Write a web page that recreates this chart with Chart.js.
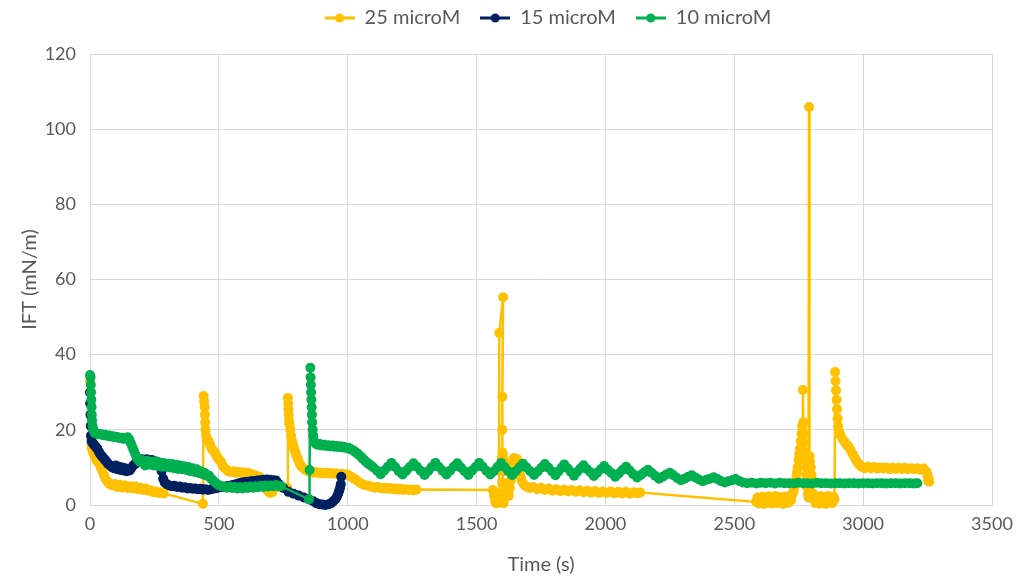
<!DOCTYPE html>
<html>
<head>
<meta charset="utf-8">
<title>IFT vs time</title>
<script src="https://cdn.jsdelivr.net/npm/chart.js@4/dist/chart.umd.min.js"></script>
<style>
  html, body { margin: 0; padding: 0; background: #fff; }
  #wrap { width: 1016px; height: 580px; }
</style>
</head>
<body>
<div id="wrap"><canvas id="chart" width="1016" height="580"></canvas></div>
<script>
/* ============================================================
   IFT (mN/m) against time for three concentrations
   ============================================================ */

const seriesNames = ['25 microM', '15 microM', '10 microM'];
const seriesColors = ['#FFC000', '#002060', '#00B050'];
const xTickStep = 500, xMax = 3500;
const yTickStep = 20, yMax = 120;

// [time (s), IFT (mN/m)]
const ift25 = [
  [0,33],[1,30],[2,27],[3,24],[4,21],[5,18],[6,16],[8,15],[12,14],[18,13],[24,12],[30,11.5],
  [36,11],[42,10],[48,9],[54,8],[60,7],[68,6.2],[76,5.6],[86,5.2],[96,5.6],[106,4.8],[116,5.4],
  [126,4.6],[136,5.2],[146,4.5],[156,5],[166,4.4],[176,4.9],[186,4.2],[196,4.6],[206,4],
  [216,4.4],[226,3.8],[236,3.9],[246,3.4],[256,3.6],[266,3.2],[276,3.4],[286,3.1],
  [438,0.3],[441,29],[443,27.5],[445,26],[446,24],[447,22],[448,20],[450,18.5],[454,17.5],
  [460,17],[466,16],[472,15],[478,14.5],[484,14],[490,13.2],[496,12.5],[502,12],[508,11.5],
  [514,10.5],[520,10],[528,9.5],[536,9],[546,8.8],[556,9],[566,8.6],[576,8.8],[586,8.5],
  [596,8.7],[606,8.4],[616,8.5],[626,8.2],[636,8],[646,7.8],[656,7.5],[664,7],[670,6.5],
  [676,6],[682,5],[688,4],[694,3.5],[700,3.2],[708,3.5],
  [766,4.5],[768,28.5],[769,27],[770,25.5],[771,24],[772,22.5],[774,21.5],[777,20],[780,18.5],
  [784,17],[788,16],[792,15],[797,14],[802,13],[808,12],[814,11],[820,10.3],[828,9.8],
  [836,9.3],[846,9],[856,8.8],[866,8.6],[876,8.8],[886,8.5],[896,8.6],[906,8.4],[916,8.6],
  [926,8.4],[936,8.5],[946,8.3],[956,8.4],[966,8.2],[976,8.3],[986,8.1],[996,8.2],[1006,7.8],
  [1016,7.4],[1026,7],[1036,6.5],[1046,6],[1056,5.6],[1066,5.3],[1076,5.2],[1086,5],
  [1096,4.8],[1106,4.6],[1116,4.8],[1126,4.5],[1136,4.4],[1146,4.6],[1156,4.3],[1166,4.5],
  [1176,4.2],[1186,4.4],[1196,4.1],[1206,4.3],[1216,4],[1226,4.2],[1236,4],[1246,4.1],
  [1256,3.9],[1266,4.1],
  [1563,4],[1568,2.5],[1572,1],[1576,0.4],[1580,1.5],[1584,0.6],[1587,3],[1588,45.8],
  [1603,55.3],[1600,28.8],[1600,20],[1600,14],[1598,12.5],[1602,13.5],[1606,12],[1604,9],
  [1600,6],[1597,3],[1600,1],[1605,0.5],[1609,2],[1613,4],[1617,5.5],[1621,3.5],[1625,2.5],
  [1629,4.5],[1633,6.5],[1637,9],[1641,11],[1645,12.5],[1649,12],[1653,11],[1657,12.2],
  [1661,11.5],[1665,9.5],[1669,8],[1673,7],[1678,6],[1684,5.5],[1690,5],[1698,4.8],[1706,4.5],
  [1720,4.8],[1735,4.2],[1750,4.6],[1765,4],
  [1780,4.4],[1795,3.8],[1810,4.2],[1825,3.7],[1840,4.1],[1855,3.6],[1870,4],[1885,3.5],
  [1900,3.9],[1915,3.4],[1930,3.8],[1945,3.3],[1960,3.7],[1975,3.2],[1990,3.6],[2005,3.2],
  [2020,3.6],[2035,3.1],[2050,3.5],[2065,3.1],[2080,3.5],[2095,3],[2110,3.4],[2125,3.1],
  [2135,3.3],
  [2585,0.8],[2590,2],[2595,0.4],[2600,1.6],[2605,0.9],[2610,2.2],[2615,0.3],[2620,1.4],
  [2625,1.9],[2630,0.6],[2635,2.3],[2640,1],[2645,0.4],[2650,1.8],[2655,1.2],[2660,2.4],
  [2665,0.5],[2670,1.5],[2675,2.1],[2680,0.7],[2685,1.7],[2690,0.3],[2695,2.2],[2700,1.1],
  [2705,1.9],[2710,0.6],[2715,2.4],[2720,1.3],[2725,2.8],[2729,3.5],[2733,4.5],[2737,5.5],
  [2740,7],[2743,8.5],[2746,10],[2749,12],[2752,13.5],[2755,15],[2758,17],[2761,19],[2763,21],
  [2766,30.6],[2768,22],[2770,19],[2772,16.5],[2774,14],[2776,12],[2778,10],[2780,8],[2782,6],
  [2784,4.5],[2786,3],[2788,2],[2790,105.9],[2792,13],[2794,11.5],[2797,10],[2800,8],
  [2803,5.5],[2806,3],[2810,1.5],[2815,0.5],[2820,2],[2825,1.2],[2830,0.4],[2835,2.3],
  [2840,1.5],[2845,0.7],[2850,2.1],[2855,0.3],[2860,1.6],[2865,2.4],[2870,0.9],[2875,1.8],
  [2880,0.5],[2885,2.2],[2889,1.5],
  [2891,35.4],[2893,33],[2895,30.5],[2897,28],[2899,25.5],
  [2901,23],[2903,21],[2907,19.5],[2913,18.5],[2920,17.5],[2928,16.8],[2936,16],[2944,15.5],
  [2952,14.5],[2960,13.5],[2968,12.5],[2976,11.5],[2984,10.8],[2994,10.2],[3006,9.8],
  [3018,10.2],[3030,9.8],[3042,10.1],[3054,9.7],[3066,10],[3078,9.7],[3090,10],[3102,9.6],
  [3114,9.9],[3126,9.6],[3138,9.9],[3150,9.6],[3162,9.9],[3174,9.5],[3186,9.8],[3198,9.5],
  [3210,9.8],[3222,9.4],[3234,9.7],[3244,9],[3250,8],[3254,7],[3256,6.2],[3252,6.5]
];

const ift15 = [
  [0,30],[1,27],[2,24],[3,21],[4,18.5],[6,17],[10,16.5],[16,16],[22,15.5],[28,15],[34,14.2],
  [40,13.5],[46,13],[52,12.5],[58,12],[64,11.5],[70,11],[78,10.5],[86,10],[94,9.8],[100,10.5],
  [106,9.5],[112,10.2],[118,9.3],[124,10],[130,9.2],[136,9.8],[142,9],[148,9.5],[154,9.2],
  [160,9.8],[168,10.5],[176,11],[184,11.5],[192,12],[200,12.2],[210,12],[220,12.2],[230,11.8],
  [240,12],[250,11.6],[260,11.5],[270,11],[278,9],[284,7],[290,6],[298,5.5],[308,5.2],
  [318,5],[328,5.1],[338,4.8],[348,4.9],[358,4.6],[368,4.7],[378,4.4],[388,4.5],[398,4.3],
  [408,4.4],[418,4.2],[428,4.3],[438,4.1],[448,4.2],[458,4],[470,4.2],[482,4.4],[494,4.5],
  [506,4.7],[518,4.8],[530,5],[542,5.1],[554,5.3],[566,5.5],[578,5.8],[590,6],[602,6.1],
  [614,6.2],[626,6.3],[638,6.4],[650,6.5],[662,6.6],[674,6.7],[686,6.8],[698,6.7],[710,6.6],
  [722,6.5],[734,5.5],[750,4.5],[770,3.5],[790,3],[810,2.5],[830,2],[850,1.5],[866,1],
  [878,0.5],[890,0.2],[902,0.1],[914,0],[926,0.2],[936,0.5],[944,1],[952,1.5],[958,2.2],
  [963,3],[967,3.8],[970,4.5],[973,5.5],[975,7.5]
];

const ift10 = [
  [0,34.6],[2,34],[3,32],[4,30],[5,28],[6,26],[7,24],[8,22.5],[10,21],[13,20],[18,19.2],
  [26,19],[34,18.8],[42,18.9],[50,18.6],[58,18.7],[66,18.4],[74,18.5],[82,18.2],[90,18.3],
  [98,18],[106,18.1],[114,17.8],[122,17.9],[130,17.6],[138,17.8],[146,18],[152,17.5],
  [158,16.5],[164,15.5],[170,14.5],[176,13.5],[182,12.5],[188,12],[194,11.5],[200,12],
  [206,11.5],[214,10.5],[222,11.8],[230,10.8],[238,11.5],[246,10.5],[254,11.6],[262,10.4],
  [270,11.3],[278,10.2],[286,11.2],[294,10.2],[302,11],[310,10],[318,10.9],[326,9.8],
  [334,10.7],[342,9.6],[350,10.5],[358,9.5],[366,10.3],[374,9.3],[382,10.1],[390,9],
  [398,9.8],[406,8.8],[414,9.5],[422,8.5],[430,9],[438,8.2],[446,8.5],[454,7.8],[462,7.8],
  [470,7],[478,6.5],[486,6],[494,5.5],[502,5.2],[512,5],[522,4.8],[532,4.6],[542,4.9],
  [552,4.5],[562,4.8],[572,4.4],[582,4.7],[592,4.4],[602,4.8],[612,4.5],[622,4.9],[632,4.6],
  [642,5],[652,4.7],[662,5.1],[672,4.8],[682,5.2],[692,4.9],[702,5.2],[712,5],[722,5.3],
  [732,5],[742,5],[850,1.5],[852,9.3],[855,36.5],[856,34],[857,32],[858,30],[859,28],
  [860,26],[861,24],[862,22],[864,20],[866,18.5],[870,17],[876,16.3],[884,16],[892,16.2],
  [900,15.8],[908,16],[916,15.7],[924,15.9],[932,15.6],[940,15.8],[948,15.5],[956,15.7],
  [964,15.4],[972,15.6],[980,15.3],[988,15.4],[996,15.1],[1004,15.2],[1012,14.8],[1020,14.6],
  [1028,14.2],[1036,13.8],[1044,13.3],[1052,12.8],[1060,12.2],[1068,11.7],[1076,11.2],
  [1084,10.8],[1092,10.4],[1100,10],[1114,9.1],[1128,8.2],[1142,9.2],[1156,10.2],[1170,11.2],
  [1184,10.1],[1198,9],[1213,8.1],[1227,9.1],[1241,10.1],[1255,11.1],[1269,10.2],[1283,9.1],
  [1298,8],[1312,9],[1326,10.1],[1340,11.2],[1354,10.1],[1368,9.1],[1383,8.1],[1397,9.1],
  [1411,10.2],[1425,11.1],[1439,10],[1453,9],[1468,8],[1482,9.1],[1496,10.1],[1510,11.2],
  [1524,10.2],[1538,9.1],[1553,8.1],[1567,9],[1581,10.1],[1595,11.2],[1609,10.1],[1623,9],
  [1638,8],[1652,9],[1666,10],[1680,11],[1694,10],[1708,9],[1723,8],[1737,8.9],
  [1751,9.9],[1765,10.9],[1779,9.9],[1793,8.9],[1806,7.9],[1818,8.9],[1830,9.9],[1840,10.8],
  [1853,9.8],[1866,8.8],[1878,7.8],[1890,8.8],[1903,9.7],[1915,10.6],[1928,9.6],[1942,8.7],
  [1955,7.7],[1968,8.6],[1982,9.5],[1995,10.4],[2009,9.4],[2023,8.5],[2038,7.5],[2052,8.4],
  [2066,9.3],[2080,10.2],[2094,9.2],[2108,8.2],[2123,7.3],[2137,8],[2151,8.7],[2165,9.4],
  [2179,8.6],[2193,7.8],[2208,7],[2222,7.5],[2236,8.1],[2250,8.6],[2264,7.9],[2278,7.2],
  [2293,6.6],[2307,7],[2321,7.5],[2335,7.9],[2349,7.3],[2363,6.8],[2378,6.3],[2392,6.7],
  [2406,7],[2420,7.4],[2434,6.9],[2448,6.4],[2463,6],[2477,6.3],[2491,6.6],[2505,6.9],
  [2519,6.4],[2533,6],[2550,5.8],[2568,5.9],[2586,5.7],[2604,5.9],[2622,5.8],[2640,5.9],
  [2658,5.7],[2676,5.9],[2694,5.8],[2712,5.8],[2730,5.7],[2748,5.9],[2766,5.8],[2784,5.8],
  [2802,5.7],[2820,5.9],[2838,5.8],[2856,5.8],[2874,5.7],[2892,5.8],[2910,5.8],[2928,5.7],
  [2946,5.8],[2964,5.8],[2982,5.7],[3000,5.8],[3018,5.8],[3036,5.7],[3054,5.8],[3072,5.8],
  [3090,5.7],[3108,5.8],[3126,5.8],[3144,5.7],[3162,5.8],[3180,5.8],[3198,5.7],[3210,5.8]
];

const FONT = 'Lato, "Liberation Sans", sans-serif';
const TEXT = '#595959';
const GRID = '#D9D9D9';

// line-with-marker swatch used in the legend
function legendIcon(color) {
  const c = document.createElement('canvas');
  c.width = 30; c.height = 12;
  const g = c.getContext('2d');
  g.strokeStyle = color; g.lineWidth = 3;
  g.beginPath(); g.moveTo(0, 6); g.lineTo(30, 6); g.stroke();
  g.fillStyle = color;
  g.beginPath(); g.arc(15, 6, 4.5, 0, Math.PI * 2); g.fill();
  return c;
}
const legendIcons = seriesColors.map(legendIcon);

function toPoints(rows) {
  return rows.map(r => ({ x: r[0], y: r[1] }));
}

function makeDataset(i, rows) {
  return {
    label: seriesNames[i],
    data: toPoints(rows),
    showLine: true,
    borderColor: seriesColors[i],
    backgroundColor: seriesColors[i],
    pointBackgroundColor: seriesColors[i],
    pointBorderWidth: 0,
    borderWidth: 2.5,
    pointRadius: 5,
    tension: 0,
    clip: false,
    order: 2 - i, // later series drawn on top, as in the original
  };
}

// nudges the legend into place above the plot
const legendPlace = {
  id: 'legendPlace',
  beforeDraw(chart) {
    const lg = chart.legend;
    if (!lg) return;
    lg.left = 104;
    lg.right = 992;
    lg.top = -12;
  }
};

new Chart(document.getElementById('chart'), {
  type: 'scatter',
  data: {
    datasets: [makeDataset(0, ift25), makeDataset(1, ift15), makeDataset(2, ift10)]
  },
  plugins: [legendPlace],
  options: {
    responsive: false,
    animation: false,
    layout: { padding: { top: 4, right: 24, left: 0, bottom: 0 } },
    plugins: {
      tooltip: { enabled: false },
      legend: {
        position: 'top',
        labels: {
          usePointStyle: true,
          pointStyleWidth: 30,
          padding: 20,
          color: TEXT,
          font: { family: FONT, size: 20 },
          sort: (a, b) => a.datasetIndex - b.datasetIndex,
          generateLabels(chart) {
            const items = Chart.defaults.plugins.legend.labels.generateLabels(chart);
            items.forEach(it => { it.pointStyle = legendIcons[it.datasetIndex]; });
            return items;
          }
        }
      }
    },
    scales: {
      x: {
        type: 'linear',
        min: 0,
        max: xMax,
        ticks: {
          stepSize: xTickStep, color: TEXT, padding: 8, font: { family: FONT, size: 18 },
          callback: v => String(v)
        },
        grid: { color: GRID, drawTicks: false },
        border: { color: GRID },
        title: { display: true, text: 'Time (s)', color: TEXT, font: { family: FONT, size: 20 }, padding: { top: 8, bottom: 3 } },
        afterFit(s) { s.height = 75; s.paddingLeft = 0; s.paddingRight = 0; }
      },
      y: {
        min: 0,
        max: yMax,
        ticks: { stepSize: yTickStep, color: TEXT, padding: 14, font: { family: FONT, size: 18 } },
        grid: { color: GRID, drawTicks: false },
        border: { color: GRID },
        title: { display: true, text: 'IFT (mN/m)', color: TEXT, font: { family: FONT, size: 20 }, padding: { top: 18, bottom: 0 } },
        afterFit(s) { s.width = 90; }
      }
    }
  }
});
</script>
</body>
</html>
